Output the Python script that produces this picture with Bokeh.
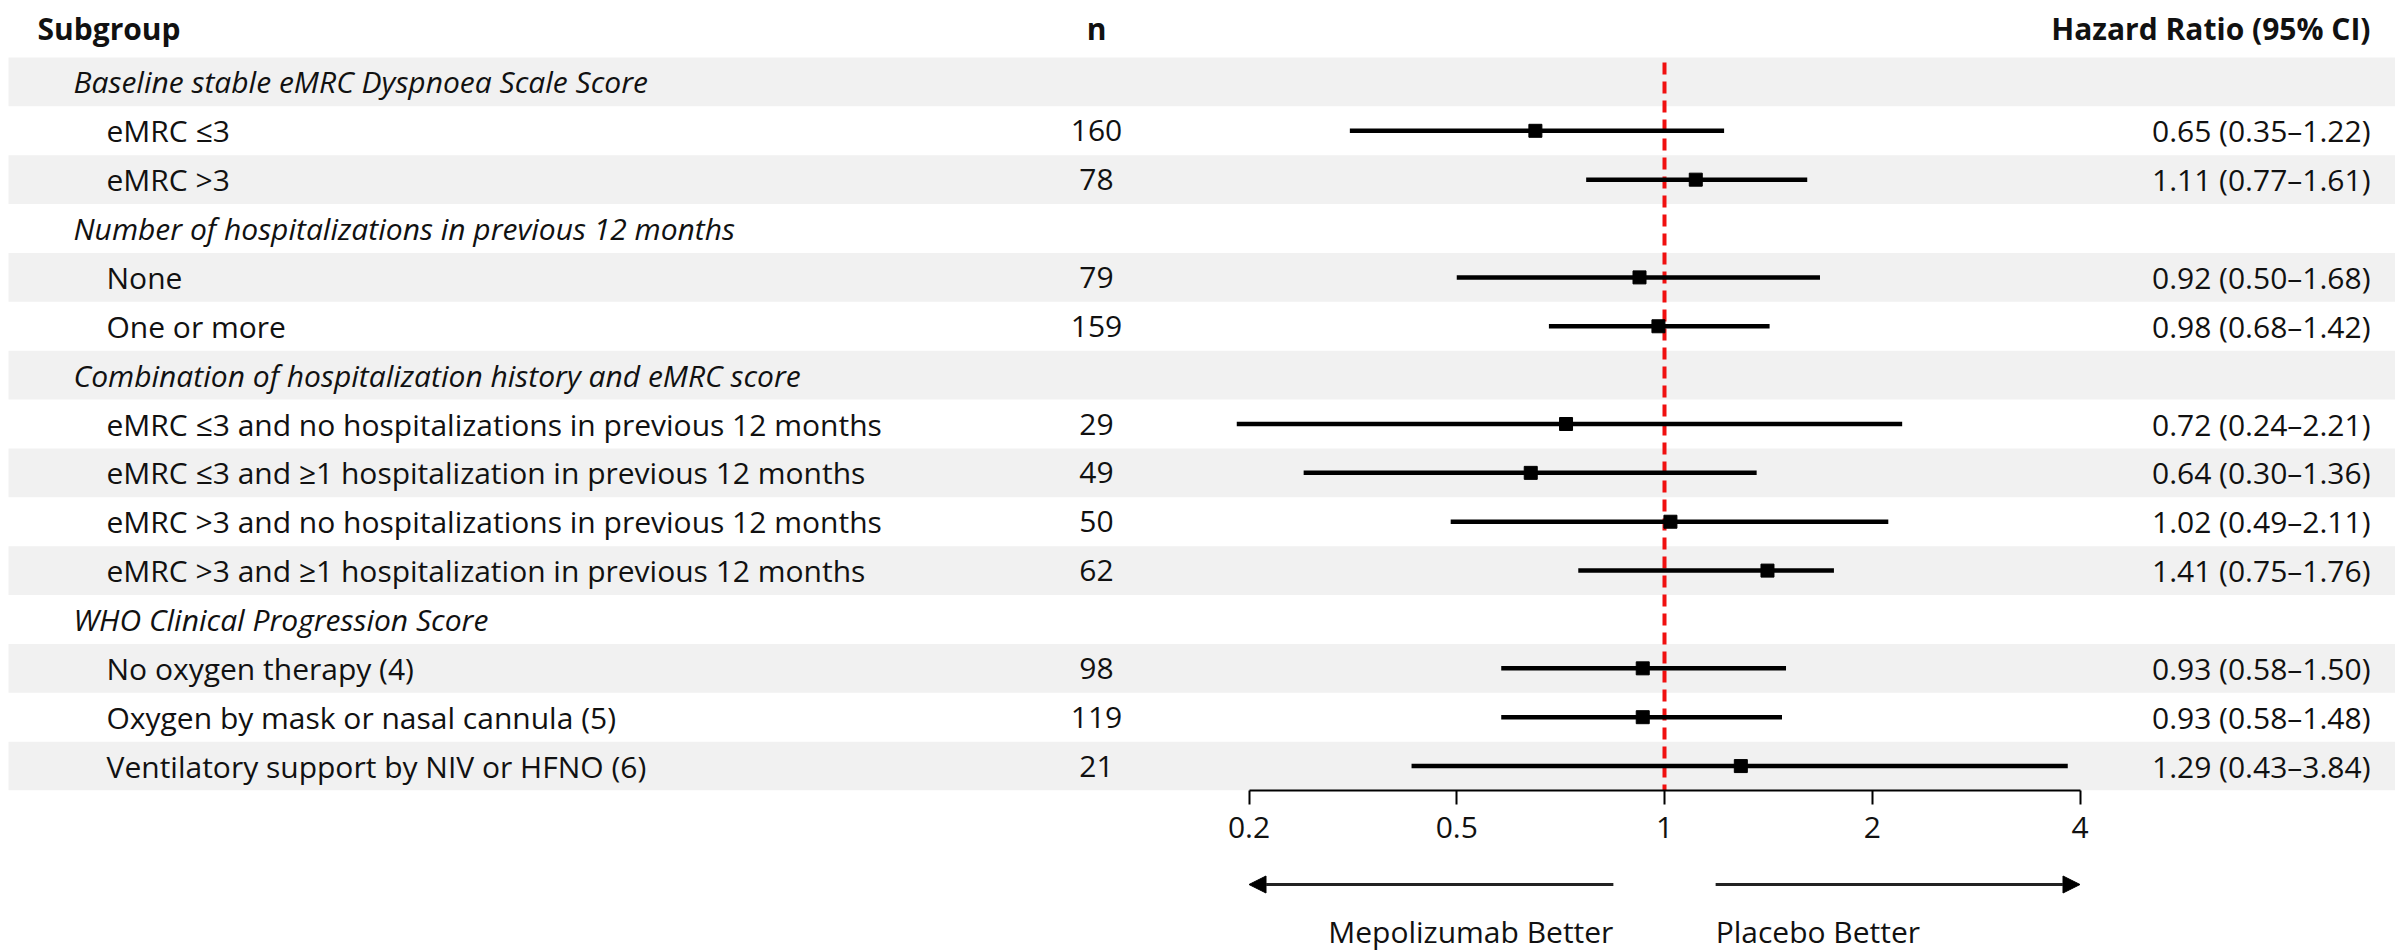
from bokeh.plotting import figure
from bokeh.models import (ColumnDataSource, Range1d, FixedTicker, LabelSet, Label,
                          BoxAnnotation, Arrow, NormalHead)
from bokeh.layouts import column
from bokeh.core.properties import value
from bokeh.embed import file_html
from bokeh.resources import INLINE

# ---------------- data ----------------
subgroups = [
    "Baseline stable eMRC Dyspnoea Scale Score",
    "eMRC ≤3",
    "eMRC >3",
    "Number of hospitalizations in previous 12 months",
    "None",
    "One or more",
    "Combination of hospitalization history and eMRC score",
    "eMRC ≤3 and no hospitalizations in previous 12 months",
    "eMRC ≤3 and ≥1 hospitalization in previous 12 months",
    "eMRC >3 and no hospitalizations in previous 12 months",
    "eMRC >3 and ≥1 hospitalization in previous 12 months",
    "WHO Clinical Progression Score",
    "No oxygen therapy (4)",
    "Oxygen by mask or nasal cannula (5)",
    "Ventilatory support by NIV or HFNO (6)",
]
is_heading = [True, False, False, True, False, False, True, False, False, False, False,
              True, False, False, False]
n_values = ["", "160", "78", "", "79", "159", "", "29", "49", "50", "62", "", "98", "119", "21"]
hazard_ratio = [None, 0.65, 1.11, None, 0.92, 0.98, None, 0.72, 0.64, 1.02, 1.41, None, 0.93, 0.93, 1.29]
ci_lower = [None, 0.35, 0.77, None, 0.50, 0.68, None, 0.24, 0.30, 0.49, 0.75, None, 0.58, 0.58, 0.43]
ci_upper = [None, 1.22, 1.61, None, 1.68, 1.42, None, 2.21, 1.36, 2.11, 1.76, None, 1.50, 1.48, 3.84]
hr_text = ["", "0.65 (0.35–1.22)", "1.11 (0.77–1.61)", "", "0.92 (0.50–1.68)", "0.98 (0.68–1.42)", "",
           "0.72 (0.24–2.21)", "0.64 (0.30–1.36)", "1.02 (0.49–2.11)", "1.41 (0.75–1.76)", "",
           "0.93 (0.58–1.50)", "0.93 (0.58–1.48)", "1.29 (0.43–3.84)"]
tick_values = [0.25, 0.5, 1.0, 2.0, 4.0]
tick_labels = ["0.2", "0.5", "1", "2", "4"]
reference_hr = 1.0
left_label = "Mepolizumab Better"
right_label = "Placebo Better"
headers = ["Subgroup", "n", "Hazard Ratio (95% CI)"]

# ---------------- layout constants ----------------
W = 2395
FRAME_H = 790
AXIS_H = 75
TOP_H = 57
NROWS = len(subgroups)
ROW_H = (FRAME_H - TOP_H) / NROWS
PX_ONE = 1664.0       # pixel of HR = 1
PX_PER_DOUBLING = 207.75
FONT = "Open Sans"
FS = "30px"
TICK_FS = "30px"
TXT = "#111111"
BAND = "#f1f1f1"

x_lo = 2 ** ((0 - PX_ONE) / PX_PER_DOUBLING)
x_hi = 2 ** ((W - PX_ONE) / PX_PER_DOUBLING)
y_top = -TOP_H / ROW_H - 0.5
y_bot = NROWS - 0.5

p = figure(width=W, height=FRAME_H + AXIS_H, x_axis_type="log",
           x_range=Range1d(x_lo, x_hi), y_range=Range1d(y_bot, y_top),
           output_backend="svg", toolbar_location=None, y_axis_location=None,
           min_border_left=0, min_border_right=0, min_border_top=0, min_border_bottom=AXIS_H)
p.outline_line_color = None
p.xgrid.visible = False
p.ygrid.visible = False
p.background_fill_color = "white"
p.border_fill_color = "white"

rows = list(range(NROWS))

# alternating bands
for r in rows:
    if r % 2 == 0:
        p.add_layout(BoxAnnotation(left=8, left_units="screen", top=r - 0.5, bottom=r + 0.5,
                                   fill_color=BAND, fill_alpha=1.0, line_color=None,
                                   level="underlay"))

# reference line
p.segment(x0=[reference_hr], x1=[reference_hr], y0=[-0.4], y1=[y_bot],
          line_color="#f01010", line_width=4, line_dash="12 7")

# CIs and points
est_rows = [r for r in rows if hazard_ratio[r] is not None]
ci_src = ColumnDataSource(dict(
    y=est_rows,
    hr=[hazard_ratio[r] for r in est_rows],
    lo=[ci_lower[r] for r in est_rows],
    hi=[ci_upper[r] for r in est_rows],
))
p.segment(x0="lo", x1="hi", y0="y", y1="y", source=ci_src, line_color="black", line_width=4.5)
p.scatter(x="hr", y="y", source=ci_src, marker="square", size=13,
          fill_color="black", line_color="black")

# axis
ax = p.xaxis[0]
ax.ticker = FixedTicker(ticks=tick_values, minor_ticks=[])
ax.bounds = (tick_values[0], tick_values[-1])
ax.major_label_overrides = {v: l for v, l in zip(tick_values, tick_labels)}
ax.major_tick_in = 0
ax.major_tick_out = 14
ax.minor_tick_line_color = None
ax.axis_line_width = 2
ax.major_tick_line_width = 2
ax.axis_line_color = "black"
ax.major_tick_line_color = "black"
ax.major_label_text_font = FONT
ax.major_label_text_font_size = TICK_FS
ax.major_label_text_color = TXT
ax.major_label_standoff = 12

# header labels
hdr_y = -TOP_H / ROW_H / 2 - 0.5 - 0.02
for txt, x, align in zip(headers, [37, 1096, 2370], ["left", "center", "right"]):
    p.add_layout(Label(x=x, x_units="screen", y=hdr_y, text=txt, text_font=FONT,
                       text_font_size=FS, text_font_style="bold", text_align=align,
                       text_baseline="middle", text_color=TXT))

# subgroup labels
head_rows = [r for r in rows if is_heading[r]]
item_rows = [r for r in rows if not is_heading[r]]
head_src = ColumnDataSource(dict(y=head_rows, t=[subgroups[r] for r in head_rows]))
item_src = ColumnDataSource(dict(y=item_rows, t=[subgroups[r] for r in item_rows],
                                 n=[n_values[r] for r in item_rows],
                                 hr=[hr_text[r] for r in item_rows]))
p.add_layout(LabelSet(x=73, x_units="screen", y="y", text="t", source=head_src,
                      text_font=value(FONT), text_font_size=value(FS),
                      text_font_style="italic", text_baseline="middle", text_color=TXT))
p.add_layout(LabelSet(x=106, x_units="screen", y="y", text="t", source=item_src,
                      text_font=value(FONT), text_font_size=value(FS),
                      text_baseline="middle", text_color=TXT))
p.add_layout(LabelSet(x=1096, x_units="screen", y="y", text="n", source=item_src,
                      text_font=value(FONT), text_font_size=value(FS), text_align="center",
                      text_baseline="middle", text_color=TXT))
p.add_layout(LabelSet(x=2370, x_units="screen", y="y", text="hr", source=item_src,
                      text_font=value(FONT), text_font_size=value(FS), text_align="right",
                      text_baseline="middle", text_color=TXT))

# ---------------- bottom strip with direction arrows ----------------
TOTAL_H = 951
BOT_H = TOTAL_H - (FRAME_H + AXIS_H)
arrow_y = 884 - (FRAME_H + AXIS_H)
label_y = 931 - (FRAME_H + AXIS_H)
q = figure(width=W, height=BOT_H, x_axis_type="log", x_range=p.x_range,
           y_range=Range1d(BOT_H, 0), output_backend="svg", toolbar_location=None,
           x_axis_location=None, y_axis_location=None, min_border=0)
q.outline_line_color = None
q.xgrid.visible = False
q.ygrid.visible = False
gap = 1.186
q.add_layout(Arrow(x_start=reference_hr / gap, x_end=tick_values[0], y_start=arrow_y, y_end=arrow_y,
                   line_width=3, line_color="#222222",
                   end=NormalHead(size=17, fill_color="black", line_color="black")))
q.add_layout(Arrow(x_start=reference_hr * gap, x_end=tick_values[-1], y_start=arrow_y, y_end=arrow_y,
                   line_width=3, line_color="#222222",
                   end=NormalHead(size=17, fill_color="black", line_color="black")))
q.add_layout(Label(x=reference_hr / gap, y=label_y, text=left_label, text_font=FONT, text_font_size=FS,
                   text_align="right", text_baseline="middle", text_color=TXT))
q.add_layout(Label(x=reference_hr * gap, y=label_y, text=right_label, text_font=FONT, text_font_size=FS,
                   text_align="left", text_baseline="middle", text_color=TXT))

layout = column(p, q, spacing=0)
open("out.html", "w").write(file_html(layout, INLINE))
